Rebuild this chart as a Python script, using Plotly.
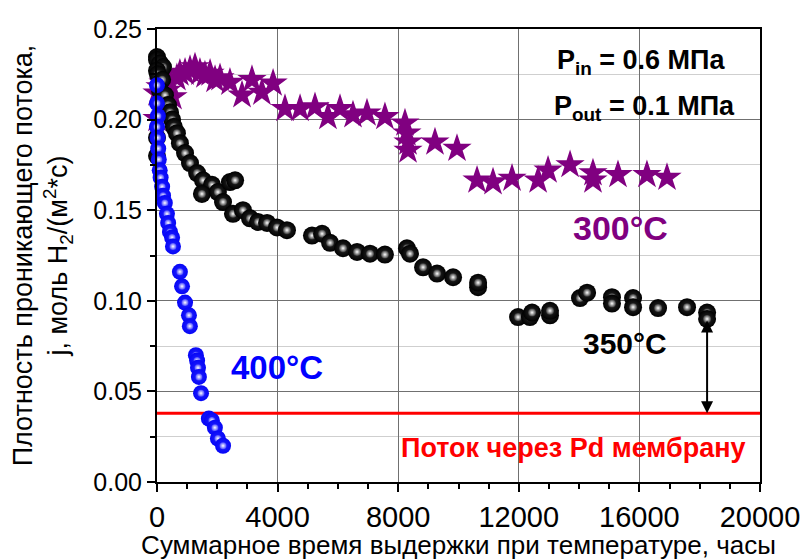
import plotly.graph_objects as go

# ---------------- data ----------------
# 400 °C (blue spheres)
t400 = [0, 0, 30, 0, 20, 40, 60, 90, 120, 170, 200, 260, 330, 370, 430, 500, 530,
        760, 830, 930, 1060, 1090, 1290, 1330, 1360, 1390, 1460,
        1720, 1820, 1920, 2020, 2190]
j400 = [0.219, 0.209, 0.202, 0.196, 0.190, 0.184, 0.178, 0.172, 0.168, 0.163, 0.158,
        0.154, 0.148, 0.143, 0.138, 0.135, 0.130,
        0.116, 0.108, 0.099, 0.092, 0.086, 0.070, 0.067, 0.063, 0.058, 0.049,
        0.035, 0.034, 0.030, 0.024, 0.020]

# 350 °C (black spheres)
t350 = [0, 0, 100, 200, 0, 30, 170, 0, 0, 100, 265, 365, 430, 500, 560, 660, 760, 930,
        1095, 1330, 1525, 1825, 1490, 2020, 2420, 2590, 2190, 2520, 2850, 3085, 3350,
        3650, 3980, 4310, 5140, 5475, 5740, 6170, 6635, 7065, 7560, 8290, 8390, 8825,
        9290, 9820, 10650, 10650, 11975, 12370, 12440, 13035, 13035, 14030, 14265,
        15090, 15090, 15790, 15790, 16620, 17580, 18245, 18245]
j350 = [0.2345, 0.233, 0.231, 0.229, 0.227, 0.225, 0.222, 0.190, 0.180, 0.216, 0.2135,
        0.208, 0.204, 0.200, 0.196, 0.1925, 0.187, 0.1815, 0.176, 0.1705, 0.1665, 0.164,
        0.159, 0.160, 0.1655, 0.1665, 0.1545, 0.148, 0.150, 0.1455, 0.1435, 0.143,
        0.1405, 0.139, 0.136, 0.137, 0.132, 0.129, 0.127, 0.126, 0.1255, 0.129, 0.126,
        0.1185, 0.115, 0.113, 0.1075, 0.110, 0.091, 0.091, 0.0935, 0.092, 0.0945,
        0.1015, 0.1045, 0.102, 0.0985, 0.1015, 0.0965, 0.096, 0.0965, 0.0935, 0.090]

# 300 °C (purple stars)
t300 = [0, 0, 100, 200, 330, 430, 530, 660, 760, 930, 1095, 1260, 1425, 1590, 1760,
        1925, 2090, 2420, 2820, 3150, 3480, 3850, 4245, 4745, 5240, 5670, 6070, 6500,
        6965, 7560, 8225, 8290, 8325, 8325, 9220, 9950, 10615, 11145, 11775, 12640,
        12970, 13700, 14460, 14460, 15290, 16250, 16915]
j300 = [0.2005, 0.2145, 0.218, 0.220, 0.216, 0.2205, 0.2125, 0.223, 0.2255, 0.226,
        0.2275, 0.229, 0.226, 0.2245, 0.2255, 0.222, 0.223, 0.2205, 0.2135, 0.222,
        0.215, 0.220, 0.206, 0.206, 0.207, 0.2015, 0.206, 0.2025, 0.2035, 0.2015,
        0.198, 0.1925, 0.1875, 0.183, 0.1875, 0.184, 0.1665, 0.1655, 0.1675, 0.1665,
        0.172, 0.175, 0.1705, 0.1665, 0.1695, 0.1695, 0.168]

pd_flux = 0.038          # flux through Pd membrane
x_range = [0, 20000]
y_range = [0, 0.25]
x_ticks = [0, 4000, 8000, 12000, 16000, 20000]
y_ticks = [0.00, 0.05, 0.10, 0.15, 0.20, 0.25]

FONT = "Liberation Sans, Arial, sans-serif"


def spheres(xs, ys, base, center, hl_edge, size, hl_size):
    """Interleave sphere body + highlight so later spheres cover earlier highlights."""
    X, Y, S, C, G = [], [], [], [], []
    for x, y in zip(xs, ys):
        X += [x, x]
        Y += [y, y]
        S += [size, hl_size]
        C += [base, hl_edge]
        G += [center, "white"]
    return go.Scatter(
        x=X, y=Y, mode="markers", cliponaxis=False, showlegend=False,
        marker=dict(size=S, color=C, opacity=1, line=dict(width=0),
                    gradient=dict(type="radial", color=G)),
    )


fig = go.Figure()

# Pd membrane line
fig.add_trace(go.Scatter(x=x_range, y=[pd_flux, pd_flux], mode="lines",
                         line=dict(color="#ff0000", width=3), showlegend=False))

fig.add_trace(go.Scatter(x=t300, y=j300, mode="markers", cliponaxis=False,
                         showlegend=False,
                         marker=dict(symbol="star", size=22, color="#800080",
                                     opacity=1, line=dict(width=0))))
fig.add_trace(spheres(t350, j350, "#000000", "#2a2a2a", "#3a3a3a", 18, 8))
fig.add_trace(spheres(t400, j400, "#0606f6", "#2020ff", "#4848ff", 16, 7))

# double arrow from last 350 °C point to Pd line
fig.add_annotation(x=t350[-1], y=pd_flux, ax=t350[-1], ay=j350[-1],
                   xref="x", yref="y", axref="x", ayref="y", text="",
                   showarrow=True, arrowhead=2, startarrowhead=2,
                   arrowside="end+start", arrowsize=1.2, arrowwidth=2,
                   arrowcolor="black")

ann = [
    ("P<sub>in</sub> = 0.6 МПа", 0.804, 0.927, "black", 27),
    ("P<sub>out</sub> = 0.1 МПа", 0.808, 0.826, "black", 27),
    ("300°C", 0.768, 0.560, "#800080", 34),
    ("350°C", 0.776, 0.306, "black", 30),
    ("400°C", 0.199, 0.253, "#0000ff", 33),
    ("Поток через Pd мембрану", 0.69, 0.074, "#ff0000", 27),
]
for txt, x, y, col, sz in ann:
    fig.add_annotation(x=x, y=y, xref="paper", yref="paper", text=f"<b>{txt}</b>",
                       showarrow=False, font=dict(family=FONT, size=sz, color=col),
                       xanchor="center", yanchor="middle")

fig.update_layout(
    width=805, height=560,
    margin=dict(l=157, r=45, t=29, b=78),
    paper_bgcolor="white", plot_bgcolor="white",
    font=dict(family=FONT, color="black"),
)
fig.update_xaxes(
    range=x_range, tickvals=x_ticks, ticktext=[str(v) for v in x_ticks],
    automargin=False,
    showline=True, linecolor="black", linewidth=2, mirror=True,
    ticks="outside", ticklen=8, tickwidth=1.5, tickcolor="black",
    showgrid=True, gridcolor="#707070", gridwidth=1, zeroline=False,
    tickfont=dict(size=29),
    minor=dict(dtick=1000, ticks="outside", ticklen=5, tickcolor="black", showgrid=False),
    title=dict(text="Суммарное время выдержки при температуре, часы",
               font=dict(size=26), standoff=6),
)
fig.update_yaxes(
    range=y_range, tickvals=y_ticks, ticktext=[f"{v:.2f}" for v in y_ticks],
    automargin=False,
    showline=True, linecolor="black", linewidth=2, mirror=True,
    ticks="outside", ticklen=8, tickwidth=1.5, tickcolor="black",
    showgrid=True, gridcolor="#707070", gridwidth=1, zeroline=False,
    tickfont=dict(size=25),
    minor=dict(dtick=0.025, ticks="outside", ticklen=5, tickcolor="black",
               showgrid=True, gridcolor="#cfcfcf"),
    title=dict(text="Плотность проникающего потока,<br>j, моль H<sub>2</sub>/(м<sup>2</sup>*с)",
               font=dict(size=27), standoff=18),
)

fig.write_html("out.html", config={"displayModeBar": False},
               post_script="document.body.style.margin='0';document.body.style.padding='0';")
